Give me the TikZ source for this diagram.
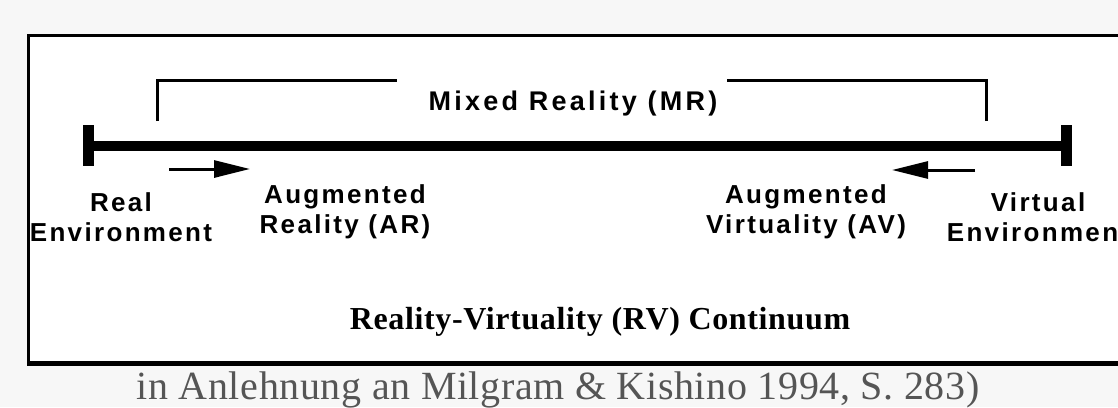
\documentclass[tikz,border=0pt]{standalone}
\usepackage{fontspec}
\setmainfont{Liberation Serif}
\setsansfont{Liberation Sans}
\usetikzlibrary{arrows.meta}
\definecolor{pagegray}{HTML}{F7F7F7}
\definecolor{captiongray}{HTML}{555555}
\tikzset{
  lbl/.style={font=\sffamily\bfseries\fontsize{26}{30}\selectfont\addfontfeature{LetterSpace=9},align=center},
  bracket/.style={line width=3pt},
  shift arrow/.style={line width=3pt,-{Triangle[length=36pt,width=17pt]}}
}
\begin{document}
\begin{tikzpicture}[x=1pt,y=-1pt]
    \useasboundingbox (0,0) rectangle (1118,407);
    \clip (0,0) rectangle (1118,407);
    \fill[pagegray] (0,0) rectangle (1118,407);
    \filldraw[fill=white,line width=3pt] (28.5,35.5) rectangle (1140,363);
    \draw[line width=5pt] (27,363) -- (1140,363);

    \coordinate (re) at (88,146);
    \coordinate (ve) at (1066,146);
    \draw[line width=10pt] (re) -- (ve);
    \draw[line width=11pt] (re) ++(0,-21) -- ++(0,41)
    (ve) ++(0,-21) -- ++(0,41);

    \node[lbl,anchor=base,font=\sffamily\bfseries\fontsize{27}{30}\selectfont\addfontfeature{LetterSpace=12}] (mr) at (573,110) {Mixed Reality (MR)};
    \coordinate (mrl) at (157,121);
    \coordinate (mrlt) at (397,80);
    \coordinate (mrr) at (986,121);
    \coordinate (mrrt) at (727,80);
    \draw[bracket] (mrl) |- (mrlt) (mrr) |- (mrrt);

    \coordinate (ara) at (169,169);
    \coordinate (arb) at (250,169);
    \coordinate (ava) at (975,170);
    \coordinate (avb) at (892,170);
    \draw[shift arrow] (ara) -- (arb);
    \draw[shift arrow] (ava) -- (avb);

    \node[lbl] (real) at (121,217) {Real\\Environment};
    \node[lbl] (ar) at (345,212) {Augmented\\Reality (AR)};
    \node[lbl] (av) at (806,212) {Augmented\\Virtuality (AV)};
    \node[lbl] (virt) at (1038,217) {Virtual\\Environment};

    \node[anchor=base,font=\bfseries\fontsize{32}{36}\selectfont\addfontfeature{LetterSpace=2}] (rv) at (600,329) {Reality-Virtuality (RV) Continuum};
    \node[anchor=base,text=captiongray,font=\fontsize{40}{44}\selectfont\addfontfeature{LetterSpace=1.5}] (src) at (558,399) {in Anlehnung an Milgram \& Kishino 1994, S. 283)};
\end{tikzpicture}
\end{document}
